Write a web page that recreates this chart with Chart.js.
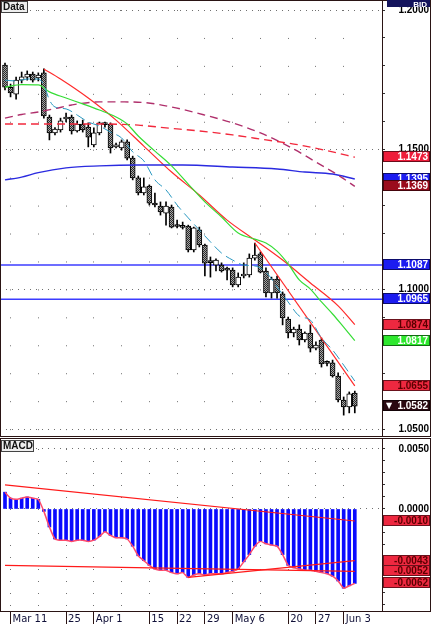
<!DOCTYPE html>
<html>
<head>
<meta charset="utf-8">
<title>Daily chart with MACD</title>
<script src="https://cdn.jsdelivr.net/npm/chart.js@4.4.1/dist/chart.umd.min.js"></script>
<style>
    body { margin: 0; background: #fff; }
    #wrap { position: relative; width: 431px; height: 625px; }
    canvas { position: absolute; left: 0; }
</style>
</head>
<body>
<div id="wrap">
    <canvas id="priceChart" width="431" height="438" style="top:0"></canvas>
    <canvas id="macdChart" width="431" height="187" style="top:438px"></canvas>
</div>
<script>
// Trading days shown on the chart
const dates = [
    'Mar 8', 'Mar 11', 'Mar 12', 'Mar 13', 'Mar 14', 'Mar 15', 'Mar 18', 'Mar 19', 'Mar 20', 'Mar 21', 'Mar 22',
    'Mar 25', 'Mar 26', 'Mar 27', 'Mar 28', 'Mar 29', 'Apr 1', 'Apr 2', 'Apr 3', 'Apr 4', 'Apr 5',
    'Apr 8', 'Apr 9', 'Apr 10', 'Apr 11', 'Apr 12', 'Apr 15', 'Apr 16', 'Apr 17', 'Apr 18', 'Apr 19',
    'Apr 22', 'Apr 23', 'Apr 24', 'Apr 25', 'Apr 26', 'Apr 29', 'Apr 30', 'May 1', 'May 2', 'May 3',
    'May 6', 'May 7', 'May 8', 'May 9', 'May 10', 'May 13', 'May 14', 'May 15', 'May 16', 'May 17',
    'May 20', 'May 21', 'May 22', 'May 23', 'May 24', 'May 27', 'May 28', 'May 29', 'May 30', 'May 31',
    'Jun 3', 'Jun 4', 'Jun 5'
];

// Weekly grid columns and the labels printed under them
const weekStarts = ['Mar 11', 'Mar 18', 'Mar 25', 'Apr 1', 'Apr 8', 'Apr 15', 'Apr 22', 'Apr 29', 'May 6', 'May 13', 'May 20', 'May 27', 'Jun 3'];
const axisLabels = ['Mar 11', '', '25', 'Apr 1', '', '15', '22', '29', 'May 6', '', '20', '27', 'Jun 3'];

// OHLC
const opens = [
    1.1803, 1.1723, 1.1699, 1.1749, 1.1760, 1.1771, 1.1757, 1.1775, 1.1617, 1.1560,
    1.1571, 1.1610, 1.1617, 1.1567, 1.1592, 1.1581, 1.1517, 1.1560, 1.1596, 1.1592,
    1.1510, 1.1506, 1.1528, 1.1470, 1.1399, 1.1345, 1.1370, 1.1309, 1.1298, 1.1273,
    1.1295, 1.1227, 1.1223, 1.1227, 1.1141, 1.1213, 1.1159, 1.1098, 1.1087, 1.1087,
    1.1073, 1.1069, 1.1016, 1.1048, 1.1052, 1.1112, 1.1127, 1.1066, 1.0987, 1.1037,
    1.0984, 1.0894, 1.0844, 1.0858, 1.0819, 1.0844, 1.0790, 1.0819, 1.0737, 1.0737,
    1.0690, 1.0604, 1.0579, 1.0629
];
const highs = [
    1.1810, 1.1735, 1.1760, 1.1778, 1.1782, 1.1778, 1.1775, 1.1789, 1.1624, 1.1579,
    1.1613, 1.1631, 1.1624, 1.1603, 1.1606, 1.1596, 1.1578, 1.1599, 1.1599, 1.1596,
    1.1524, 1.1535, 1.1535, 1.1477, 1.1406, 1.1399, 1.1374, 1.1345, 1.1313, 1.1313,
    1.1302, 1.1248, 1.1241, 1.1230, 1.1223, 1.1223, 1.1162, 1.1116, 1.1109, 1.1095,
    1.1080, 1.1077, 1.1059, 1.1095, 1.1127, 1.1166, 1.1134, 1.1077, 1.1044, 1.1048,
    1.0991, 1.0901, 1.0865, 1.0873, 1.0848, 1.0873, 1.0812, 1.0826, 1.0744, 1.0747,
    1.0701, 1.0615, 1.0633, 1.0636
];
const lows = [
    1.1714, 1.1689, 1.1681, 1.1739, 1.1749, 1.1742, 1.1746, 1.1613, 1.1535, 1.1553,
    1.1563, 1.1599, 1.1556, 1.1563, 1.1563, 1.1510, 1.1510, 1.1553, 1.1581, 1.1488,
    1.1506, 1.1499, 1.1463, 1.1392, 1.1338, 1.1338, 1.1302, 1.1295, 1.1266, 1.1230,
    1.1220, 1.1220, 1.1216, 1.1134, 1.1134, 1.1152, 1.1048, 1.1044, 1.1066, 1.1062,
    1.1034, 1.1009, 1.1009, 1.1041, 1.1044, 1.1105, 1.1059, 1.0973, 1.0969, 1.0969,
    1.0873, 1.0826, 1.0830, 1.0801, 1.0812, 1.0776, 1.0783, 1.0722, 1.0726, 1.0686,
    1.0597, 1.0550, 1.0558, 1.0558
];
const closes = [
    1.1724, 1.1703, 1.1749, 1.1761, 1.1771, 1.1749, 1.1767, 1.1621, 1.1560, 1.1574,
    1.1603, 1.1617, 1.1567, 1.1592, 1.1571, 1.1545, 1.1560, 1.1596, 1.1590, 1.1506,
    1.1513, 1.1528, 1.1470, 1.1399, 1.1345, 1.1367, 1.1309, 1.1302, 1.1277, 1.1298,
    1.1223, 1.1225, 1.1222, 1.1141, 1.1220, 1.1159, 1.1094, 1.1096, 1.1105, 1.1066,
    1.1069, 1.1016, 1.1044, 1.1052, 1.1112, 1.1123, 1.1062, 1.0987, 1.1037, 1.0987,
    1.0898, 1.0844, 1.0858, 1.0819, 1.0844, 1.0790, 1.0801, 1.0733, 1.0735, 1.0690,
    1.0604, 1.0579, 1.0626, 1.0582
];

// Moving averages, read at sample days
const maFast = [
    ['Mar 8', 1.1749], ['Mar 12', 1.1746], ['Mar 14', 1.1753], ['Mar 18', 1.1753], ['Mar 19', 1.1732],
    ['Mar 20', 1.1678], ['Mar 21', 1.1653], ['Mar 25', 1.1646], ['Mar 27', 1.1624], ['Mar 29', 1.1599],
    ['Apr 2', 1.1585], ['Apr 4', 1.1563], ['Apr 8', 1.1542], ['Apr 10', 1.1492], ['Apr 12', 1.1460],
    ['Apr 16', 1.1392], ['Apr 18', 1.1356], ['Apr 22', 1.1302], ['Apr 24', 1.1256], ['Apr 26', 1.1213],
    ['Apr 30', 1.1170], ['May 2', 1.1130], ['May 6', 1.1105], ['May 8', 1.1087], ['May 10', 1.1084],
    ['May 14', 1.1062], ['May 16', 1.1009], ['May 20', 1.0955], ['May 22', 1.0905], ['May 24', 1.0890],
    ['May 28', 1.0826], ['May 30', 1.0783], ['Jun 3', 1.0729], ['Jun 5', 1.0672]
];
const maMid = [
    ['Mar 8', 1.1724], ['Mar 13', 1.1733], ['Mar 18', 1.1732], ['Mar 20', 1.1707], ['Mar 25', 1.1685],
    ['Mar 28', 1.1664], ['Apr 2', 1.1642], ['Apr 5', 1.1617], ['Apr 9', 1.1592], ['Apr 11', 1.1549],
    ['Apr 16', 1.1495], ['Apr 19', 1.1442], ['Apr 24', 1.1377], ['Apr 29', 1.1313], ['May 2', 1.1259],
    ['May 7', 1.1202], ['May 10', 1.1180], ['May 14', 1.1166], ['May 16', 1.1137], ['May 20', 1.1091],
    ['May 22', 1.1034], ['May 24', 1.1001], ['May 28', 1.0955], ['May 30', 1.0912], ['Jun 3', 1.0865],
    ['Jun 5', 1.0817]
];
const maSlowRed = [
    ['Mar 8', 1.1592], ['Apr 2', 1.1592], ['Apr 11', 1.1588], ['Apr 18', 1.1578], ['Apr 26', 1.1567],
    ['May 6', 1.1553], ['May 14', 1.1535], ['May 22', 1.1517], ['May 30', 1.1492], ['Jun 5', 1.1473]
];
const maSlowPurple = [
    ['Mar 8', 1.1613], ['Mar 13', 1.1626], ['Mar 18', 1.1635], ['Mar 21', 1.1647], ['Mar 26', 1.1660],
    ['Apr 2', 1.1671], ['Apr 8', 1.1671], ['Apr 12', 1.1669], ['Apr 19', 1.1653], ['Apr 29', 1.1624],
    ['May 6', 1.1596], ['May 13', 1.1560], ['May 20', 1.1513], ['May 27', 1.1456], ['May 31', 1.1409],
    ['Jun 5', 1.1369]
];
const maLong = [
    ['Mar 8', 1.1392], ['Mar 13', 1.1402], ['Mar 18', 1.1418], ['Mar 25', 1.1435], ['Apr 2', 1.1442],
    ['Apr 11', 1.1445], ['Apr 23', 1.1445], ['May 6', 1.1438], ['May 16', 1.1431], ['May 23', 1.1420],
    ['May 30', 1.1413], ['Jun 5', 1.1395]
];
const trendA = [
    ['Mar 19', 1.1789], ['Mar 22', 1.1753], ['Mar 29', 1.1685], ['Apr 5', 1.1606], ['Apr 12', 1.1513],
    ['Apr 19', 1.1420], ['Apr 26', 1.1338], ['May 3', 1.1248], ['May 10', 1.1177], ['May 17', 1.1105],
    ['May 24', 1.1023], ['May 31', 1.0941], ['Jun 5', 1.0874]
];
const trendB = [['May 10', 1.1166], ['Jun 5', 1.0655]];

// Horizontal levels and right-axis price tags
const levels = [1.1087, 1.0965];
const priceTags = [1.1473, 1.1395, 1.1369, 1.1087, 1.0965, 1.0874, 1.0817, 1.0655, 1.0582];

// MACD
const macdHist = [
    0.0014, 0.0009, 0.0008, 0.0009, 0.0010, 0.0009, 0.0008, -0.0002, -0.0015, -0.0025,
    -0.0026, -0.0026, -0.0027, -0.0026, -0.0026, -0.0027, -0.0026, -0.0023, -0.0019, -0.0022,
    -0.0024, -0.0024, -0.0025, -0.0031, -0.0039, -0.0043, -0.0047, -0.0050, -0.0051, -0.0051,
    -0.0053, -0.0054, -0.0053, -0.0057, -0.0055, -0.0054, -0.0055, -0.0054, -0.0054, -0.0054,
    -0.0053, -0.0052, -0.0050, -0.0044, -0.0038, -0.0031, -0.0027, -0.0029, -0.0030, -0.0031,
    -0.0038, -0.0047, -0.0049, -0.0050, -0.0051, -0.0051, -0.0052, -0.0053, -0.0054, -0.0056,
    -0.0060, -0.0066, -0.0064, -0.0062
];
const macdTrend1 = [['Mar 8', 0.0020], ['Jun 5', -0.0010]];
const macdTrend2 = [['Mar 8', -0.0047], ['Jun 5', -0.0052]];
const macdTrend3 = [['Apr 24', -0.0057], ['Jun 5', -0.0043]];
const macdTags = [-0.0010, -0.0043, -0.0052, -0.0062];

// Styles
const tagFill = ['#ee1c3a', '#1c1cf0', '#9a0c1c', '#1c1cf0', '#1c1cf0', '#ee2840', '#2ee82e', '#ee2840', '#2a0810'];
const tagText = ['#fff', '#fff', '#fff', '#fff', '#fff', '#5a0000', '#fff', '#5a0000', '#fff'];

Chart.defaults.font.family = "'Liberation Sans', Arial, sans-serif";
Chart.defaults.animation = false;

const xMin = -0.9;
const xMax = 67.9;

const isStep = (v, s) => Math.abs(v / s - Math.round(v / s)) < 1e-3;
const toPoints = list => list.map(([d, v]) => ({ x: dates.indexOf(d), y: v }));
const weekTicks = axis => { axis.ticks = weekStarts.map(d => ({ value: dates.indexOf(d) })); };

function lineSet(list, color, width, dash, smooth) {
    return {
        type: 'line',
        data: toPoints(list),
        borderColor: color,
        borderWidth: width,
        borderDash: dash,
        pointRadius: 0,
        fill: false,
        cubicInterpolationMode: smooth ? 'monotone' : 'default',
        tension: 0,
        order: 1
    };
}

// Checkered fill for falling candles
function makeDither() {
    const c = document.createElement('canvas');
    c.width = 2;
    c.height = 2;
    const g = c.getContext('2d');
    g.fillStyle = '#a8a8a8';
    g.fillRect(0, 0, 2, 2);
    g.fillStyle = '#2a2a2a';
    g.fillRect(0, 0, 1, 1);
    g.fillRect(1, 1, 1, 1);
    return g.createPattern(c, 'repeat');
}

function drawTag(ctx, a, y, text, fill, color) {
    const cy = Math.round(y);
    ctx.fillStyle = fill;
    ctx.fillRect(a.right + 1, cy - 6, 47, 11);
    ctx.strokeStyle = 'rgba(0,0,0,0.55)';
    ctx.lineWidth = 1;
    ctx.strokeRect(a.right + 1.5, cy - 5.5, 46, 10);
    ctx.fillStyle = color;
    ctx.textAlign = 'right';
    ctx.textBaseline = 'middle';
    ctx.fillText(text, 428, cy);
}

function drawCaption(ctx, x, y, w, text) {
    ctx.fillStyle = '#eeeeee';
    ctx.fillRect(x, y, w, 12);
    ctx.strokeStyle = '#444';
    ctx.lineWidth = 1;
    ctx.strokeRect(x + 0.5, y + 0.5, w - 1, 11);
    ctx.fillStyle = '#111';
    ctx.font = "bold 10px 'Liberation Sans'";
    ctx.textAlign = 'left';
    ctx.textBaseline = 'middle';
    ctx.fillText(text, x + 2, y + 6.5);
}

// Price panel
function createPriceChart() {
    const canvas = document.getElementById('priceChart');
    const bearFill = makeDither();

    const decor = {
        id: 'priceDecor',
        beforeDatasetsDraw(chart) {
            const { ctx, chartArea: a, scales: { y } } = chart;
            ctx.save();
            ctx.strokeStyle = '#3c3cff';
            ctx.lineWidth = 1.5;
            levels.forEach(v => {
                const py = y.getPixelForValue(v);
                ctx.beginPath();
                ctx.moveTo(a.left, py);
                ctx.lineTo(a.right, py);
                ctx.stroke();
            });
            ctx.restore();
        },
        afterDraw(chart) {
            const { ctx, chartArea: a, scales: { y }, width } = chart;
            ctx.save();
            ctx.strokeStyle = '#2a1414';
            ctx.lineWidth = 1;
            ctx.beginPath();
            ctx.moveTo(0, 0.5); ctx.lineTo(width, 0.5);
            ctx.moveTo(0, a.bottom - 0.5); ctx.lineTo(width, a.bottom - 0.5);
            ctx.moveTo(0.5, 0); ctx.lineTo(0.5, a.bottom);
            ctx.moveTo(a.right + 0.5, 0); ctx.lineTo(a.right + 0.5, a.bottom);
            ctx.moveTo(width - 0.5, 0); ctx.lineTo(width - 0.5, a.bottom);
            ctx.stroke();

            ctx.font = "bold 10px 'Liberation Sans'";
            priceTags.forEach((v, i) => {
                drawTag(ctx, a, y.getPixelForValue(v), v.toFixed(4), tagFill[i], tagText[i]);
            });
            // arrow on the last price
            ctx.fillStyle = '#fff';
            ctx.textAlign = 'left';
            ctx.font = "8px 'DejaVu Sans'";
            ctx.fillText('\u25BC', a.right + 4, Math.round(y.getPixelForValue(priceTags[priceTags.length - 1])));

            // BID header
            ctx.fillStyle = '#14145c';
            ctx.fillRect(a.right + 5, 0, width - a.right - 6, 7);
            ctx.fillStyle = '#fff';
            ctx.font = "bold 8px 'Liberation Sans'";
            ctx.textAlign = 'right';
            ctx.textBaseline = 'alphabetic';
            ctx.fillText('BID', 427, 7);

            drawCaption(ctx, 1, 1, 27, 'Data');
            ctx.restore();
        }
    };

    return new Chart(canvas, {
        type: 'line',
        data: {
            datasets: [
                lineSet(maFast, '#2a98c0', 1, [10, 5], true),
                lineSet(maMid, '#36dd36', 1.2, [], true),
                lineSet(maSlowRed, '#f2283c', 1.4, [8, 5], true),
                lineSet(maSlowPurple, '#b0306c', 1.4, [8, 5], true),
                lineSet(maLong, '#2a2ae0', 1.4, [], true),
                lineSet(trendA, '#ff2a2a', 1.2, [], true),
                lineSet(trendB, '#ff2a2a', 1.2, [], false),
                {
                    type: 'bar',
                    data: dates.map((d, i) => ({ x: i, y: [opens[i], closes[i]] })),
                    backgroundColor: ctx => closes[ctx.dataIndex] >= opens[ctx.dataIndex] ? '#ffffff' : bearFill,
                    borderColor: '#000',
                    borderWidth: 1,
                    borderSkipped: false,
                    barThickness: 5,
                    minBarLength: 2,
                    grouped: false,
                    order: 9
                },
                {
                    type: 'bar',
                    data: dates.map((d, i) => ({ x: i, y: [lows[i], highs[i]] })),
                    backgroundColor: '#000',
                    barThickness: 1,
                    grouped: false,
                    order: 10
                }
            ]
        },
        options: {
            responsive: false,
            devicePixelRatio: 1,
            events: [],
            layout: { padding: { left: 0, right: 2, top: 0, bottom: 1 } },
            plugins: { legend: { display: false }, tooltip: { enabled: false } },
            scales: {
                x: {
                    type: 'linear',
                    min: xMin,
                    max: xMax,
                    offset: false,
                    afterBuildTicks: weekTicks,
                    afterFit: ax => { ax.height = 0; ax.paddingLeft = 0; ax.paddingRight = 0; },
                    ticks: { display: false },
                    grid: { color: '#707070', drawTicks: false, offset: false },
                    border: { display: false, dash: [1, 26.94], dashOffset: 17.94 }
                },
                y: {
                    position: 'right',
                    min: 1.04717,
                    max: 1.20358,
                    beginAtZero: false,
                    afterFit: ax => { ax.width = 47; ax.paddingTop = 0; ax.paddingBottom = 0; },
                    ticks: {
                        stepSize: 0.01,
                        includeBounds: false,
                        autoSkip: false,
                        crossAlign: 'far',
                        padding: 0,
                        color: '#000',
                        font: { size: 10, weight: 'bold' },
                        callback: v => isStep(v, 0.05) ? v.toFixed(4) : ''
                    },
                    grid: {
                        color: ctx => ctx.tick && isStep(ctx.tick.value, 0.05) ? '#707070' : 'rgba(0,0,0,0)',
                        tickColor: '#333',
                        tickLength: 3
                    },
                    border: { display: false, dash: [1, 5] }
                }
            }
        },
        plugins: [decor]
    });
}

// MACD panel
function createMacdChart() {
    const canvas = document.getElementById('macdChart');

    const decor = {
        id: 'macdDecor',
        afterDraw(chart) {
            const { ctx, chartArea: a, scales: { y }, width } = chart;
            ctx.save();
            ctx.strokeStyle = '#2a1414';
            ctx.lineWidth = 1;
            ctx.beginPath();
            ctx.moveTo(0, 0.5); ctx.lineTo(width, 0.5);
            ctx.moveTo(0, a.bottom + 0.5); ctx.lineTo(width, a.bottom + 0.5);
            ctx.moveTo(0.5, 0); ctx.lineTo(0.5, a.bottom + 1);
            ctx.moveTo(a.right + 0.5, 0); ctx.lineTo(a.right + 0.5, a.bottom + 1);
            ctx.moveTo(width - 0.5, 0); ctx.lineTo(width - 0.5, a.bottom + 1);
            ctx.stroke();

            ctx.font = "bold 10px 'Liberation Sans'";
            macdTags.forEach(v => {
                drawTag(ctx, a, y.getPixelForValue(v), v.toFixed(4), '#ee2840', '#5a0000');
            });

            drawCaption(ctx, 1, 2, 33, 'MACD');
            ctx.restore();
        }
    };

    return new Chart(canvas, {
        type: 'line',
        data: {
            datasets: [
                {
                    type: 'bar',
                    data: macdHist.map((v, i) => ({ x: i, y: v })),
                    backgroundColor: '#0a0aff',
                    barThickness: 3,
                    grouped: false,
                    order: 5
                },
                {
                    type: 'line',
                    data: macdHist.map((v, i) => ({ x: i, y: v })),
                    borderColor: '#ff4a6a',
                    borderWidth: 1.5,
                    pointRadius: 0,
                    fill: false,
                    tension: 0.2,
                    order: 2
                },
                lineSet(macdTrend1, '#ff1a1a', 1.2, [], false),
                lineSet(macdTrend2, '#ff1a1a', 1.2, [], false),
                lineSet(macdTrend3, '#ff1a1a', 1.2, [], false)
            ]
        },
        options: {
            responsive: false,
            devicePixelRatio: 1,
            events: [],
            layout: { padding: { left: 0, right: 2, top: 1, bottom: 0 } },
            plugins: { legend: { display: false }, tooltip: { enabled: false } },
            scales: {
                x: {
                    type: 'linear',
                    min: xMin,
                    max: xMax,
                    offset: false,
                    afterBuildTicks: weekTicks,
                    afterFit: ax => { ax.height = 14; ax.paddingLeft = 0; ax.paddingRight = 0; },
                    ticks: {
                        autoSkip: false,
                        maxRotation: 0,
                        align: 'start',
                        labelOffset: 2,
                        padding: -11,
                        color: '#101038',
                        font: { family: "'DejaVu Sans'", size: 10 },
                        callback: (v, i) => axisLabels[i]
                    },
                    grid: {
                        color: '#707070',
                        offset: false,
                        drawTicks: true,
                        tickLength: 13,
                        tickWidth: 1,
                        tickColor: ctx => axisLabels[ctx.index] ? '#2a1414' : 'rgba(0,0,0,0)'
                    },
                    border: { display: false, dash: [1, 11], dashOffset: 2 }
                },
                y: {
                    position: 'right',
                    min: -0.0085,
                    max: 0.00583,
                    beginAtZero: false,
                    afterFit: ax => { ax.width = 47; ax.paddingTop = 0; ax.paddingBottom = 0; },
                    ticks: {
                        stepSize: 0.001,
                        includeBounds: false,
                        autoSkip: false,
                        crossAlign: 'far',
                        padding: 0,
                        color: '#000',
                        font: { size: 10, weight: 'bold' },
                        callback: v => (isStep(v, 0.005) && v >= 0) ? v.toFixed(4) : ''
                    },
                    grid: {
                        color: ctx => ctx.tick && isStep(ctx.tick.value, 0.005) && ctx.tick.value >= 0 ? '#707070' : 'rgba(0,0,0,0)',
                        tickColor: '#333',
                        tickLength: 3
                    },
                    border: { display: false, dash: [1, 5] }
                }
            }
        },
        plugins: [decor]
    });
}

createPriceChart();
createMacdChart();
</script>
</body>
</html>
